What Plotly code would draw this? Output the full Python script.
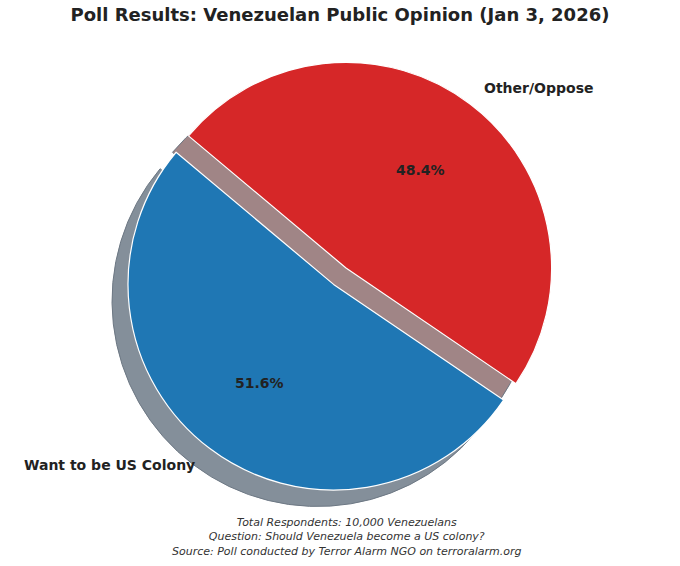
import math
import plotly.graph_objects as go

# poll data
labels = ["Want to be US Colony", "Other/Oppose"]
values = [51.6, 48.4]
colors = ["#1f77b4", "#d62728"]
shadow_colors = ["#848f9a", "#a08586"]
pulls = [0, 0.1]
start_angle = 140  # degrees, counterclockwise from 3 o'clock (matplotlib style)

title = "Poll Results: Venezuelan Public Opinion (Jan 3, 2026)"
footnote = ["Total Respondents: 10,000 Venezuelans",
            "Question: Should Venezuela become a US colony?",
            "Source: Poll conducted by Terror Alarm NGO on terroralarm.org"]

W, H = 680, 566
CX, CY, R = 333.6, 284.4, 205.6   # pie centre / radius in pixels
SHADOW_DX, SHADOW_DY = -16, 16.5

half = R * (1 + max(pulls))
total = sum(values)

# plotly's clockwise rotation so the first slice runs ccw from start_angle
first_span = 360 * values[0] / total
rotation = 90 - start_angle - first_span


def domain(dx=0, dy=0):
    x0 = (CX + dx - half) / W
    x1 = (CX + dx + half) / W
    y0 = 1 - (CY + dy + half) / H
    y1 = 1 - (CY + dy - half) / H
    return dict(x=[x0, x1], y=[y0, y1])


fig = go.Figure()

# shadow
fig.add_trace(go.Pie(
    labels=[l + " (shadow)" for l in labels], values=values, sort=False,
    direction="clockwise", rotation=rotation, pull=pulls,
    domain=domain(SHADOW_DX, SHADOW_DY),
    marker=dict(colors=shadow_colors, line=dict(color="#6d7884", width=1)),
    textinfo="none", hoverinfo="skip", showlegend=False,
))

# main pie
fig.add_trace(go.Pie(
    labels=labels, values=values, sort=False,
    direction="clockwise", rotation=rotation, pull=pulls, domain=domain(),
    marker=dict(colors=colors, line=dict(color="white", width=1.2)),
    textinfo="none", showlegend=False,
))

# labels + percentages placed like matplotlib (labeldistance 1.1, pctdistance 0.6)
angle = start_angle
for lab, val, p in zip(labels, values, pulls):
    span = 360 * val / total
    mid = math.radians(angle + span / 2)
    ux, uy = math.cos(mid), -math.sin(mid)
    cx = CX + p * R * ux
    cy = CY + p * R * uy
    lx, ly = cx + 1.1 * R * ux, cy + 1.1 * R * uy
    fig.add_annotation(x=lx / W, y=1 - ly / H, xref="paper", yref="paper",
                       text="<b>%s</b>" % lab, showarrow=False,
                       xanchor="left" if ux > 0 else "right", yanchor="middle",
                       font=dict(family="DejaVu Sans", size=14, color="#222222"))
    px_, py_ = cx + 0.6 * R * ux, cy + 0.6 * R * uy
    fig.add_annotation(x=px_ / W, y=1 - py_ / H, xref="paper", yref="paper",
                       text="<b>%.1f%%</b>" % (100 * val / total), showarrow=False,
                       xanchor="center", yanchor="middle",
                       font=dict(family="DejaVu Sans", size=14, color="#222222"))
    angle += span

fig.add_annotation(x=346 / W, y=1 - 537 / H, xref="paper", yref="paper",
                   text="<br>".join(footnote), showarrow=False,
                   xanchor="center", yanchor="middle", align="center",
                   font=dict(family="DejaVu Sans", size=11, color="#333333",
                             style="italic"))

fig.update_layout(
    width=W, height=H, autosize=False,
    margin=dict(l=0, r=0, t=0, b=0),
    paper_bgcolor="white", plot_bgcolor="white",
    title=dict(text="<b>%s</b>" % title, x=0.5, xanchor="center",
               y=1 - 15 / H, yanchor="middle",
               font=dict(family="DejaVu Sans", size=18, color="#222222")),
)

fig.write_html("out.html", config={"displayModeBar": False},
               post_script="document.body.style.margin = '0px';")
